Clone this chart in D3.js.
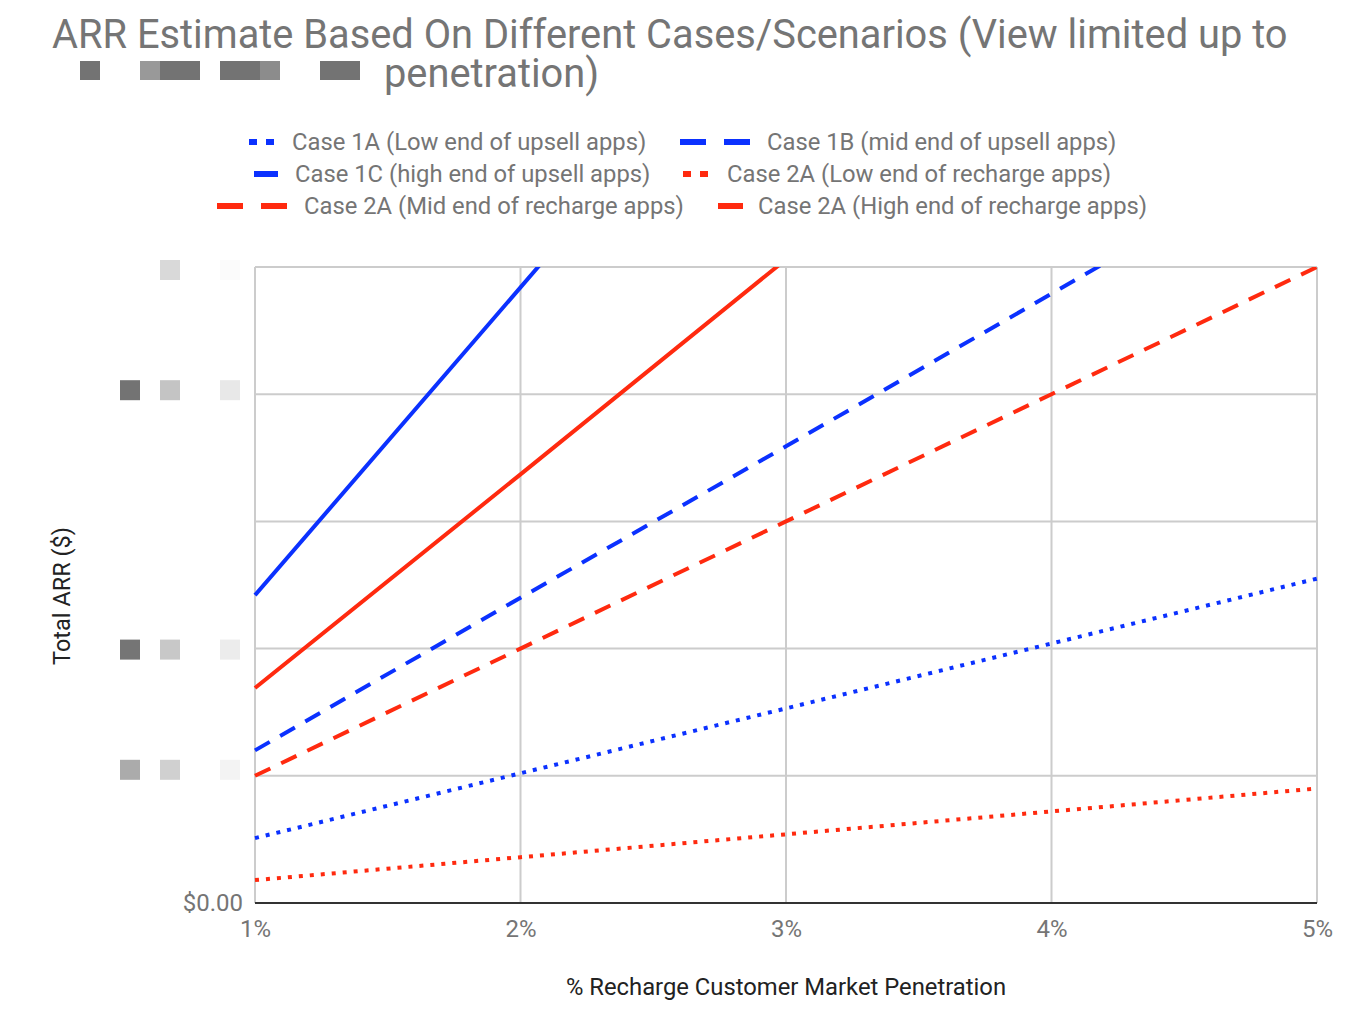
<!DOCTYPE html>
<html>
<head>
<meta charset="utf-8">
<script src="https://cdn.jsdelivr.net/npm/d3@7"></script>
<style>
  html, body { margin: 0; padding: 0; background: #fff; }
  svg { display: block; font-family: Roboto, "Noto Sans", sans-serif; }
</style>
</head>
<body>
<svg id="chart" width="1350" height="1018"></svg>
<script>
// ---- data ----
const penetration = [1, 2, 3, 4, 5];                 // % market penetration
const xTickLabels = ["1%", "2%", "3%", "4%", "5%"];
const yTicks = [0, 1, 2, 3, 4, 5];                    // gridline units (dollar labels redacted)
const yTickLabels = ["$0.00", "", "", "", "", ""];
const seriesNames = [
  "Case 1A (Low end of upsell apps)",
  "Case 1B (mid end of upsell apps)",
  "Case 1C (high end of upsell apps)",
  "Case 2A (Low end of recharge apps)",
  "Case 2A (Mid end of recharge apps)",
  "Case 2A (High end of recharge apps)"
];
const case1A = [0.51, 1.02, 1.53, 2.04, 2.55];
const case1B = [1.20, 2.40, 3.59, 4.79, 5.99];
const case1C = [2.42, 4.84, 7.26, 9.68, 12.10];
const case2ALow = [0.18, 0.36, 0.54, 0.72, 0.90];
const case2AMid = [1.00, 2.00, 3.00, 4.00, 5.00];
const case2AHigh = [1.69, 3.37, 5.06, 6.74, 8.43];
const seriesValues = [case1A, case1B, case1C, case2ALow, case2AMid, case2AHigh];

// ---- styling ----
const BLUE = "#0b31ff", RED = "#ff2a0f";
const styles = [
  {color: BLUE, dash: "4 7", kind: "dot"},
  {color: BLUE, dash: "17 12", kind: "dash"},
  {color: BLUE, dash: null, kind: "solid"},
  {color: RED, dash: "4 7", kind: "dot"},
  {color: RED, dash: "17 12", kind: "dash"},
  {color: RED, dash: null, kind: "solid"}
];

const svg = d3.select("#chart");
const margin = {left: 255, right: 1317, top: 267, bottom: 903};

const x = d3.scaleLinear().domain([1, 5]).range([margin.left, margin.right]);
const y = d3.scaleLinear().domain([0, 5]).range([margin.bottom, margin.top]);

// Title (one text element, two lines)
const title = svg.append("text").attr("fill", "#757575").style("font-size", "39.8px");
title.append("tspan").attr("x", 52).attr("y", 48).text("ARR Estimate Based On Different Cases/Scenarios (View limited up to");
title.append("tspan").attr("x", 384).attr("y", 87).text("penetration)");
// redacted mosaic in title
const titleBlocks = [[80, 20, "#737373"], [140, 20, "#999999"], [160, 40, "#737373"], [220, 40, "#737373"], [260, 20, "#8c8c8c"], [320, 40, "#737373"]];
svg.append("g").selectAll("rect").data(titleBlocks).join("rect")
  .attr("x", d => d[0]).attr("y", 61).attr("width", d => d[1]).attr("height", 19).attr("fill", d => d[2]);

// Legend
const legendItems = [
  {i: 0, sx: 249, sw: 25, tx: 292, y: 142},
  {i: 1, sx: 680, sw: 70, tx: 767, y: 142},
  {i: 2, sx: 254, sw: 24, tx: 295, y: 174},
  {i: 3, sx: 683, sw: 28, tx: 727, y: 174},
  {i: 4, sx: 217, sw: 70, tx: 304, y: 206},
  {i: 5, sx: 718, sw: 25, tx: 758, y: 206}
];
const leg = svg.append("g");
legendItems.forEach(it => {
  const st = styles[it.i];
  const ln = leg.append("line")
    .attr("x1", it.sx).attr("x2", it.sx + it.sw)
    .attr("y1", it.y).attr("y2", it.y)
    .attr("stroke", st.color).attr("stroke-width", 6);
  if (st.kind === "dot") ln.attr("stroke-dasharray", "8 9");
  if (st.kind === "dash") ln.attr("stroke-dasharray", "26 18");
  leg.append("text").attr("x", it.tx).attr("y", it.y + 8)
    .attr("fill", "#757575").style("font-size", "23.8px").text(seriesNames[it.i]);
});

// Gridlines
const grid = svg.append("g");
grid.selectAll("line.h").data(yTicks.slice(1)).join("line").attr("class", "h")
  .attr("x1", margin.left).attr("x2", margin.right)
  .attr("y1", d => y(d)).attr("y2", d => y(d))
  .attr("stroke", "#cccccc").attr("stroke-width", 2);
grid.selectAll("line.v").data(penetration).join("line").attr("class", "v")
  .attr("x1", d => x(d)).attr("x2", d => x(d))
  .attr("y1", margin.top).attr("y2", margin.bottom)
  .attr("stroke", "#cccccc").attr("stroke-width", 2);

// Clip
svg.append("clipPath").attr("id", "plotclip").append("rect")
  .attr("x", margin.left - 3).attr("y", margin.top)
  .attr("width", margin.right - margin.left + 6).attr("height", margin.bottom - margin.top);

// Lines
const lineGen = d3.line().x((d, i) => x(penetration[i])).y(d => y(d));
const lines = svg.append("g").attr("clip-path", "url(#plotclip)");
seriesValues.forEach((vals, i) => {
  const st = styles[i];
  const p = lines.append("path").datum(vals)
    .attr("d", lineGen).attr("fill", "none")
    .attr("stroke", st.color).attr("stroke-width", 4);
  if (st.dash) p.attr("stroke-dasharray", st.dash);
});

// Bottom baseline
svg.append("line").attr("x1", margin.left).attr("x2", margin.right)
  .attr("y1", y(0)).attr("y2", y(0)).attr("stroke", "#333333").attr("stroke-width", 2);

// X axis
const xAxis = d3.axisBottom(x).tickValues(penetration)
  .tickFormat((d, i) => xTickLabels[i]).tickSize(0).tickPadding(0);
const xg = svg.append("g").attr("transform", `translate(0,${margin.bottom + 17})`).call(xAxis);
xg.select(".domain").remove();
xg.selectAll("text").attr("fill", "#757575").style("font-size", "24px")
  .style("font-family", "Roboto, sans-serif").attr("dy", "0.71em");

// Y axis
const yAxis = d3.axisLeft(y).tickValues(yTicks)
  .tickFormat((d, i) => yTickLabels[i]).tickSize(0).tickPadding(12);
const yg = svg.append("g").attr("transform", `translate(${margin.left},0)`).call(yAxis);
yg.select(".domain").remove();
yg.selectAll("text").attr("fill", "#757575").style("font-size", "24px")
  .style("font-family", "Roboto, sans-serif").attr("dy", "0.32em");

// redacted y labels (mosaic blocks), placed relative to tick positions
const yRedact = [
  {t: 5, off: -7, blocks: [[160, "#d9d9d9"], [220, "#fbfbfb"]]},
  {t: 4, off: -14, blocks: [[120, "#737373"], [160, "#c4c4c4"], [220, "#e8e8e8"]]},
  {t: 2, off: -9, blocks: [[120, "#757575"], [160, "#c8c8c8"], [220, "#ececec"]]},
  {t: 1, off: -16, blocks: [[120, "#ababab"], [160, "#d0d0d0"], [220, "#f3f3f3"]]}
];
const red = svg.append("g");
yRedact.forEach(r => {
  red.selectAll(null).data(r.blocks).join("rect")
    .attr("x", d => d[0]).attr("y", y(r.t) + r.off)
    .attr("width", 20).attr("height", 20).attr("fill", d => d[1]);
});

// Axis titles
svg.append("text").attr("transform", `translate(70,${(margin.top + margin.bottom) / 2 + 11}) rotate(-90)`)
  .attr("text-anchor", "middle").attr("fill", "#222222").style("font-size", "23.5px")
  .text("Total ARR ($)");
svg.append("text").attr("x", (margin.left + margin.right) / 2).attr("y", 995)
  .attr("text-anchor", "middle").attr("fill", "#222222").style("font-size", "23.8px")
  .text("% Recharge Customer Market Penetration");
</script>
</body>
</html>
